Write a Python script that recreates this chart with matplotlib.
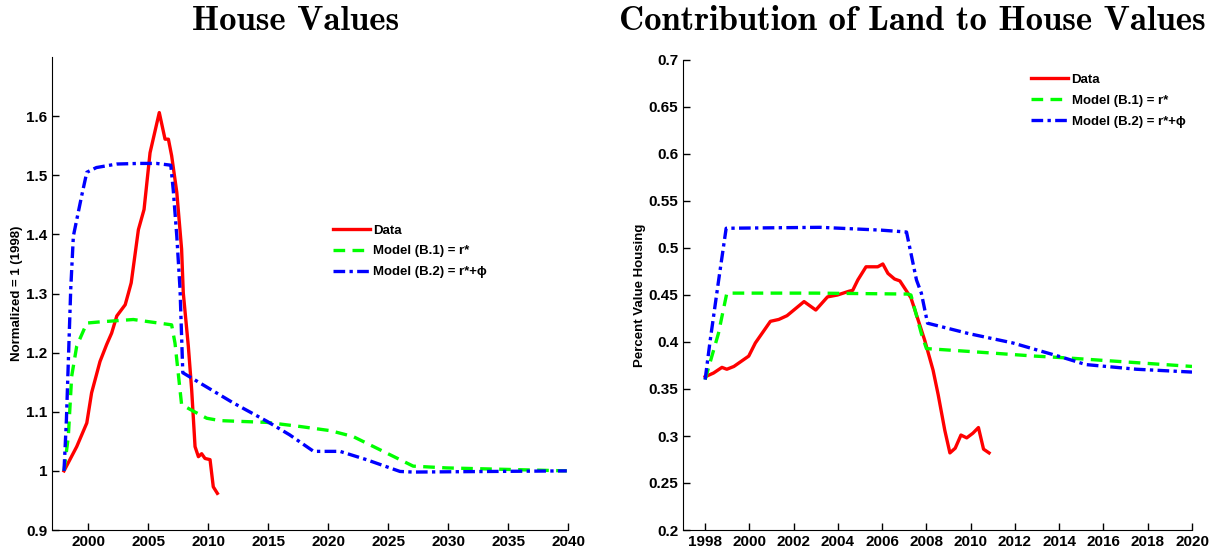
import matplotlib
matplotlib.use("Agg")
import matplotlib.pyplot as plt
from matplotlib.ticker import FuncFormatter

# ---- left panel: house values, normalized to 1998 ----
data_yr = [1998.0, 1999.06, 1999.9, 2000.3, 2001.0, 2001.56, 2001.97, 2002.4, 2003.1, 2003.36,
           2003.6, 2004.2, 2004.67, 2005.17, 2005.94, 2006.42, 2006.7, 2006.97, 2007.4, 2007.8,
           2007.94, 2008.36, 2008.64, 2008.92, 2009.2, 2009.47, 2009.75, 2010.17, 2010.44, 2010.78]
data_val = [1.0, 1.041, 1.081, 1.132, 1.185, 1.214, 1.233, 1.262, 1.281, 1.300,
            1.318, 1.408, 1.442, 1.538, 1.606, 1.561, 1.561, 1.533, 1.471, 1.375,
            1.301, 1.211, 1.137, 1.041, 1.024, 1.029, 1.021, 1.019, 0.973, 0.962]

b1_yr = [1998.0, 1998.36, 1998.64, 1999.06, 1999.9, 2001.0, 2003.78, 2005.17, 2006.97, 2007.25,
         2007.8, 2008.78, 2009.9, 2011.0, 2014.9, 2017.7, 2020.2, 2022.1, 2026.0, 2027.1,
         2029.9, 2039.9]
b1_val = [1.0, 1.058, 1.160, 1.211, 1.250, 1.252, 1.256, 1.252, 1.247, 1.216,
          1.112, 1.101, 1.089, 1.085, 1.082, 1.075, 1.068, 1.058, 1.019, 1.008,
          1.005, 1.0]

b2_yr = [1998.0, 1998.2, 1998.56, 1998.78, 1999.47, 1999.9, 2000.7, 2002.4, 2004.3, 2005.7,
         2006.9, 2007.1, 2007.4, 2007.67, 2007.9, 2009.3, 2012.1, 2014.9, 2016.8, 2018.8,
         2021.0, 2023.2, 2026.0, 2027.1, 2039.9]
b2_val = [1.0, 1.086, 1.307, 1.397, 1.465, 1.505, 1.513, 1.519, 1.520, 1.520,
          1.517, 1.476, 1.397, 1.307, 1.166, 1.149, 1.115, 1.084, 1.061, 1.033,
          1.033, 1.019, 0.999, 0.998, 1.0]

# ---- right panel: land share of house value ----
land_yr = [1998.0, 1998.38, 1998.76, 1998.98, 1999.3, 1999.97, 2000.27, 2000.95, 2001.33, 2001.7,
           2002.47, 2003.0, 2003.53, 2003.98, 2004.5, 2004.67, 2004.9, 2005.27, 2005.8, 2006.03,
           2006.26, 2006.56, 2006.8, 2007.3, 2007.92, 2008.3, 2008.53, 2008.83, 2009.06, 2009.3,
           2009.56, 2009.82, 2010.1, 2010.35, 2010.58, 2010.83]
land_val = [0.363, 0.367, 0.373, 0.371, 0.374, 0.385, 0.399, 0.422, 0.424, 0.428,
            0.443, 0.434, 0.448, 0.450, 0.454, 0.455, 0.466, 0.480, 0.480, 0.483,
            0.473, 0.467, 0.465, 0.447, 0.402, 0.370, 0.344, 0.306, 0.282, 0.287,
            0.301, 0.298, 0.303, 0.309, 0.286, 0.282]

land_b1_yr = [1998.0, 1998.6, 1998.98, 2003.0, 2007.15, 2007.3, 2007.77, 2008.0, 2009.9, 2012.9,
              2014.4, 2017.5, 2020.0]
land_b1_val = [0.360, 0.409, 0.452, 0.452, 0.451, 0.450, 0.409, 0.393, 0.390, 0.385,
               0.383, 0.378, 0.374]

land_b2_yr = [1998.0, 1998.23, 1998.6, 1998.95, 2003.2, 2005.95, 2007.1, 2007.55, 2007.77, 2008.05,
              2009.9, 2011.9, 2014.1, 2015.2, 2017.5, 2020.0]
land_b2_val = [0.360, 0.402, 0.464, 0.521, 0.522, 0.519, 0.517, 0.466, 0.452, 0.420,
               0.409, 0.399, 0.384, 0.376, 0.371, 0.368]

labels = ["Data", "Model (B.1) = r*", "Model (B.2) = r*+\u03d5"]

SANS = ["Liberation Sans", "DejaVu Sans"]
fmt = FuncFormatter(lambda v, p: f"{v:g}")


def style_axes(ax):
    ax.spines["top"].set_visible(False)
    ax.spines["right"].set_visible(False)
    ax.tick_params(direction="in", length=5, width=1, labelsize=11)
    for lab in ax.get_xticklabels() + ax.get_yticklabels():
        lab.set_fontweight("bold")
        lab.set_family(SANS)
    ax.yaxis.set_major_formatter(fmt)


def draw(ax, series):
    (x0, y0), (x1, y1), (x2, y2) = series
    ax.plot(x0, y0, color="#ff0000", lw=2.4, ls="-", label=labels[0])
    ax.plot(x1, y1, color="#00ff00", lw=2.4, ls=(0, (3.5, 2.2)), label=labels[1])
    ax.plot(x2, y2, color="#0000ff", lw=2.4, ls=(0, (3.5, 1.3, 1.0, 1.3)), label=labels[2])


fig = plt.figure(figsize=(12.25, 5.53), dpi=100)

ax1 = fig.add_axes([52 / 1225, 23 / 553, 516 / 1225, 473 / 553])
draw(ax1, [(data_yr, data_val), (b1_yr, b1_val), (b2_yr, b2_val)])
ax1.set_xlim(1997, 2040)
ax1.set_ylim(0.9, 1.7)
ax1.set_xticks(range(2000, 2041, 5))
ax1.set_yticks([0.9, 1.0, 1.1, 1.2, 1.3, 1.4, 1.5, 1.6])
style_axes(ax1)
ax1.set_ylabel("Normalized = 1 (1998)", fontsize=9.5, fontweight="bold", family=SANS, labelpad=2)
ax1.legend(loc="upper left", bbox_to_anchor=(0.531, 0.66), frameon=False,
           prop={"family": SANS, "weight": "bold", "size": 9.5},
           handlelength=2.8, handletextpad=0.3, labelspacing=0.65, borderpad=0)

ax2 = fig.add_axes([683 / 1225, 23 / 553, 509 / 1225, 470 / 553])
draw(ax2, [(land_yr, land_val), (land_b1_yr, land_b1_val), (land_b2_yr, land_b2_val)])
ax2.set_xlim(1997, 2020)
ax2.set_ylim(0.2, 0.7)
ax2.set_xticks(range(1998, 2021, 2))
ax2.set_yticks([0.2, 0.25, 0.3, 0.35, 0.4, 0.45, 0.5, 0.55, 0.6, 0.65, 0.7])
style_axes(ax2)
ax2.set_ylabel("Percent Value Housing", fontsize=9.5, fontweight="bold", family=SANS, labelpad=2)
ax2.legend(loc="upper left", bbox_to_anchor=(0.670, 0.985), frameon=False,
           prop={"family": SANS, "weight": "bold", "size": 9.5},
           handlelength=2.8, handletextpad=0.3, labelspacing=0.65, borderpad=0)

fig.text(296 / 1225, 1 - 21 / 553, "House Values", ha="center", va="center",
         fontsize=25, family="cmb10")
fig.text(912 / 1225, 1 - 21 / 553, "Contribution of Land to House Values", ha="center", va="center",
         fontsize=25, family="cmb10")

fig.savefig("out.png", dpi=100)
